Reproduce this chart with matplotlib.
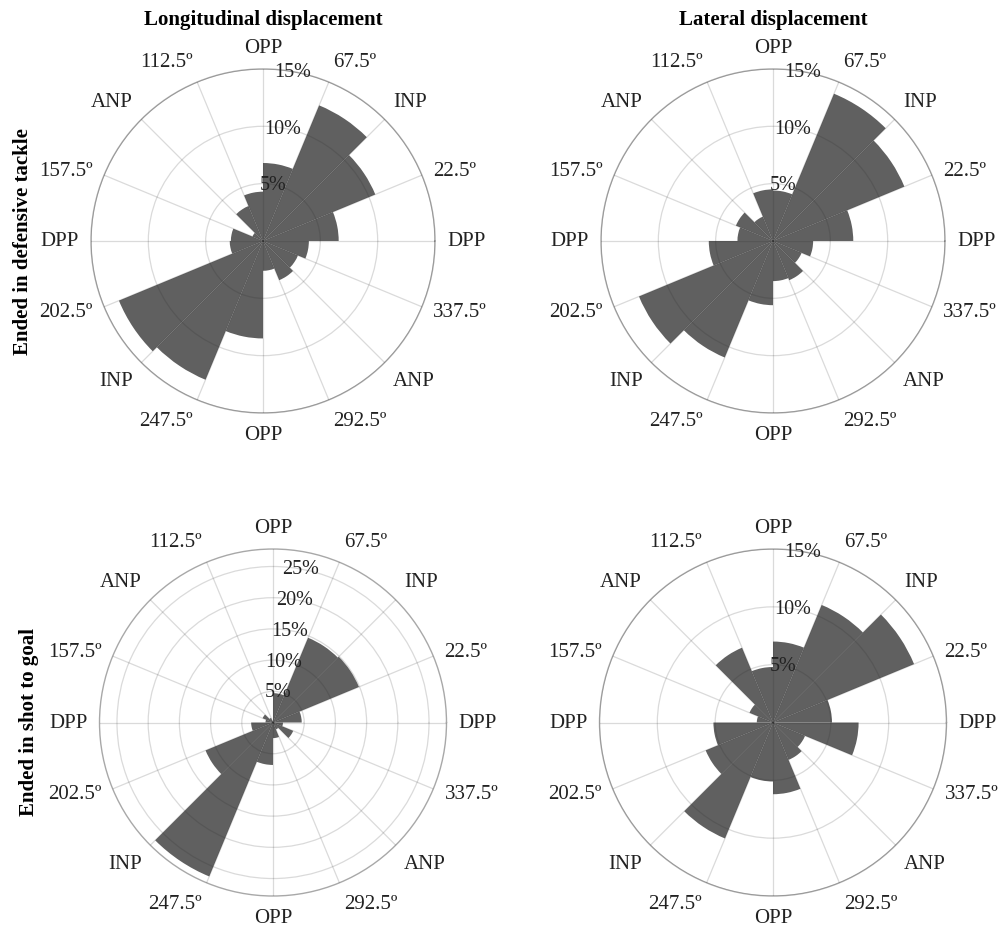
import numpy as np
import matplotlib
matplotlib.use("Agg")
import matplotlib.pyplot as plt

plt.rcParams['font.family'] = ['Liberation Serif', 'DejaVu Serif']

# Direction sectors (degrees, counter-clockwise from DPP), each 22.5 degrees wide
sector_start_deg = [0, 22.5, 45, 67.5, 90, 112.5, 135, 157.5,
                    180, 202.5, 225, 247.5, 270, 292.5, 315, 337.5]
direction_labels = ['DPP', '22.5º', 'INP', '67.5º', 'OPP', '112.5º', 'ANP', '157.5º',
                    'DPP', '202.5º', 'INP', '247.5º', 'OPP', '292.5º', 'ANP', '337.5º']

# Share of actions (%) falling in each sector
tackle_longitudinal = [6.6, 10.6, 12.8, 6.8, 4.3, 3.3, 1.0, 2.8,
                       2.9, 13.6, 13.1, 8.5, 2.6, 3.7, 3.3, 4.0]
tackle_lateral = [7.0, 12.4, 13.9, 4.4, 4.5, 2.3, 3.5, 3.1,
                  5.6, 12.65, 11.0, 5.6, 3.5, 3.7, 2.7, 3.5]
shot_longitudinal = [4.6, 14.9, 14.7, 4.7, 0.3, 0.8, 1.8, 1.2,
                     3.5, 11.7, 26.7, 6.8, 2.5, 1.2, 3.5, 1.6]
shot_lateral = [5.1, 13.2, 11.0, 7.0, 4.8, 7.0, 2.2, 1.4,
                5.15, 6.3, 10.85, 5.1, 6.2, 3.5, 3.0, 7.4]

column_titles = ['Longitudinal displacement', 'Lateral displacement']
row_titles = ['Ended in defensive tackle', 'Ended in shot to goal']
r_ticks_small = [5, 10, 15]
r_ticks_large = [5, 10, 15, 20, 25]

BAR_COLOR = '#606060'
GRID_RGB = (0.15, 0.15, 0.15)

fig = plt.figure(figsize=(10, 9.28), dpi=100)

panels = [
    ([0.091, 0.5539, 0.344, 0.3707], tackle_longitudinal, 15.0, r_ticks_small),
    ([0.601, 0.5539, 0.344, 0.3707], tackle_lateral, 15.0, r_ticks_small),
    ([0.0995, 0.0334, 0.347, 0.3739], shot_longitudinal, 27.8, r_ticks_large),
    ([0.5995, 0.0334, 0.347, 0.3739], shot_lateral, 15.0, r_ticks_small),
]

theta = np.deg2rad(sector_start_deg)
width = np.deg2rad(22.5)

for rect, values, rmax, rticks in panels:
    ax = fig.add_axes(rect, projection='polar')
    ax.bar(theta, values, width=width, align='edge', color=BAR_COLOR,
           edgecolor='none', zorder=1)
    ax.set_ylim(0, rmax)
    ax.set_xticks(theta)
    ax.set_xticklabels([])
    ax.set_yticks(rticks)
    ax.set_yticklabels([])
    ax.set_axisbelow(False)
    ax.grid(True, color=GRID_RGB, alpha=0.17, lw=0.9)
    ax.spines['polar'].set_color('#a8a8a8')
    ax.spines['polar'].set_linewidth(1.0)
    ax.tick_params(length=0)

    # direction labels around the rim
    for ang, lab in zip(sector_start_deg, direction_labels):
        a = np.deg2rad(ang)
        c, s = np.cos(a), np.sin(a)
        ha = 'left' if c > 0.01 else ('right' if c < -0.01 else 'center')
        va = 'bottom' if s > 0.6 else ('top' if s < -0.6 else 'center')
        ax.text(a, rmax * 1.07, lab, ha=ha, va=va, fontsize=15,
                color='#222222', clip_on=False)

    # radial percentage labels
    for v in rticks:
        ax.text(np.deg2rad(80), v, f'{v}%', ha='center', va='center',
                fontsize=14.5, color='#222222', zorder=5)

fig.text(0.263, 1 - 20 / 928, column_titles[0], ha='center', va='center',
         fontsize=15, fontweight='bold')
fig.text(0.773, 1 - 20 / 928, column_titles[1], ha='center', va='center',
         fontsize=15, fontweight='bold')
fig.text(0.023, 1 - 242 / 928, row_titles[0], ha='center', va='center',
         rotation=90, fontsize=15, fontweight='bold')
fig.text(0.029, 1 - 722 / 928, row_titles[1], ha='center', va='center',
         rotation=90, fontsize=15, fontweight='bold')

fig.savefig('out.png', dpi=100, facecolor='white')
